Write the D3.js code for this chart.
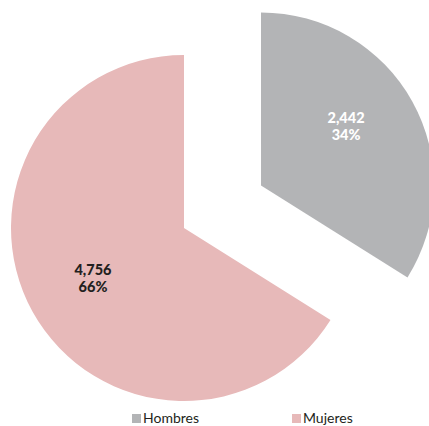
<!DOCTYPE html>
<html>
<head>
<meta charset="utf-8">
<script src="https://cdn.jsdelivr.net/npm/d3@7"></script>
<style>
  html, body { margin: 0; padding: 0; background: #fff; }
  svg { display: block; font-family: Lato, "Open Sans", sans-serif; }
</style>
</head>
<body>
<svg id="chart" width="429" height="426"></svg>
<script>
// Series: people by sex
const categories = ["Hombres", "Mujeres"];
const values = [2442, 4756];
const colors = ["#b3b4b6", "#e7b9b9"];
const labelColors = ["#ffffff", "#231f20"];

const svg = d3.select("#chart");
const cx = 184, cy = 228, radius = 173;
const explode = [88, 0];
// small hand adjustment of in-slice labels
const labelNudge = [[-6, -9], [0, 0]];

const total = d3.sum(values);
const data = categories.map((c, i) => ({ name: c, value: values[i], i }));

const pie = d3.pie().sort(null).value(d => d.value);
const arcs = pie(data);
const arc = d3.arc().innerRadius(0).outerRadius(radius);
const labelArc = d3.arc().innerRadius(104).outerRadius(104);

const fmt = d3.format(",");

const g = svg.append("g").attr("transform", `translate(${cx},${cy})`);

const slice = g.selectAll("g.slice")
  .data(arcs)
  .join("g")
  .attr("class", "slice")
  .attr("transform", d => {
    const mid = (d.startAngle + d.endAngle) / 2;
    const off = explode[d.data.i];
    return `translate(${off * Math.sin(mid)},${-off * Math.cos(mid)})`;
  });

slice.append("path")
  .attr("d", arc)
  .attr("fill", d => colors[d.data.i]);

const lbl = slice.append("text")
  .attr("transform", d => {
    const [x, y] = labelArc.centroid(d);
    const [nx, ny] = labelNudge[d.data.i];
    return `translate(${x + nx},${y + ny})`;
  })
  .attr("text-anchor", "middle")
  .attr("font-weight", "900")
  .attr("font-size", 14.5)
  .attr("fill", d => labelColors[d.data.i]);

lbl.append("tspan")
  .attr("x", 0).attr("y", -3)
  .text(d => fmt(d.data.value));
lbl.append("tspan")
  .attr("x", 0).attr("y", 14)
  .text(d => Math.round(d.data.value / total * 100) + "%");

// Legend
const legendX = [132, 292];
const legend = svg.selectAll("g.legend")
  .data(categories)
  .join("g")
  .attr("class", "legend")
  .attr("transform", (d, i) => `translate(${legendX[i]},414)`);

legend.append("rect")
  .attr("width", 9).attr("height", 9)
  .attr("fill", (d, i) => colors[i]);

legend.append("text")
  .attr("x", 11).attr("y", 9)
  .attr("font-size", 14)
  .attr("fill", "#231f20")
  .text(d => d);
</script>
</body>
</html>
